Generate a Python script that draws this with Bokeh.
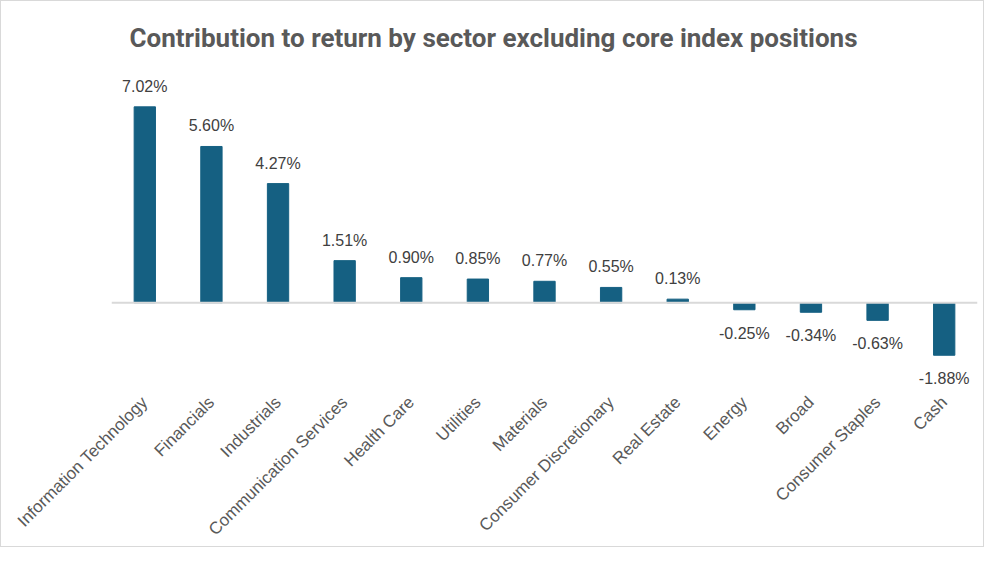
from bokeh.plotting import figure
from bokeh.models import ColumnDataSource, Span, Range1d, FactorRange
from bokeh.core.properties import value
from bokeh.embed import file_html
from bokeh.resources import INLINE
import math

categories = ["Information Technology", "Financials", "Industrials", "Communication Services",
              "Health Care", "Utilities", "Materials", "Consumer Discretionary", "Real Estate",
              "Energy", "Broad", "Consumer Staples", "Cash"]
contribution = [7.02, 5.60, 4.27, 1.51, 0.90, 0.85, 0.77, 0.55, 0.13, -0.25, -0.34, -0.63, -1.88]
title_text = "Contribution to return by sector excluding core index positions"

labels = [f"{v:.2f}%" for v in contribution]
src = ColumnDataSource(dict(cat=categories, val=contribution, lab=labels))
pos = ColumnDataSource(dict(cat=[c for c, v in zip(categories, contribution) if v >= 0],
                            val=[v for v in contribution if v >= 0],
                            lab=[l for l, v in zip(labels, contribution) if v >= 0]))
neg = ColumnDataSource(dict(cat=[c for c, v in zip(categories, contribution) if v < 0],
                            val=[v for v in contribution if v < 0],
                            lab=[l for l, v in zip(labels, contribution) if v < 0]))

p = figure(width=984, height=547, output_backend="svg", toolbar_location=None,
           x_range=FactorRange(*categories, range_padding=0),
           y_range=Range1d(-3.107, 8.286),
           min_border_left=110, min_border_right=8, min_border_top=70, min_border_bottom=152,
           title=title_text)
p.vbar(x="cat", top="val", bottom=0, width=0.32, source=src, color="#156082")
p.add_layout(Span(location=0, dimension="width", line_color="#d9d9d9", line_width=2))

font = value("Liberation Sans")
p.text(x="cat", y="val", text="lab", source=pos, text_align="center", text_baseline="bottom",
       y_offset=-12, text_font=font, text_font_size="16px", text_color="#404040")
p.text(x="cat", y="val", text="lab", source=neg, text_align="center", text_baseline="top",
       y_offset=15, text_font=font, text_font_size="16px", text_color="#404040")

p.title.align = "left"
p.title.offset = 18
p.title.standoff = 37
p.title.text_font = "Roboto"
p.title.text_font_style = "bold"
p.title.text_font_size = "26px"
p.title.text_color = "#595959"

p.yaxis.visible = False
p.xgrid.visible = False
p.ygrid.visible = False
p.xaxis.axis_line_color = None
p.xaxis.major_tick_line_color = None
p.xaxis.minor_tick_line_color = None
p.xaxis.major_label_orientation = math.pi / 4
p.xaxis.major_label_text_font = "Liberation Sans"
p.xaxis.major_label_text_font_size = "17px"
p.xaxis.major_label_text_color = "#595959"
p.xaxis.major_label_standoff = 4
p.outline_line_color = None
p.styles = {"border": "1px solid #d9d9d9", "box-sizing": "border-box"}

open("out.html", "w").write(file_html(p, INLINE))
